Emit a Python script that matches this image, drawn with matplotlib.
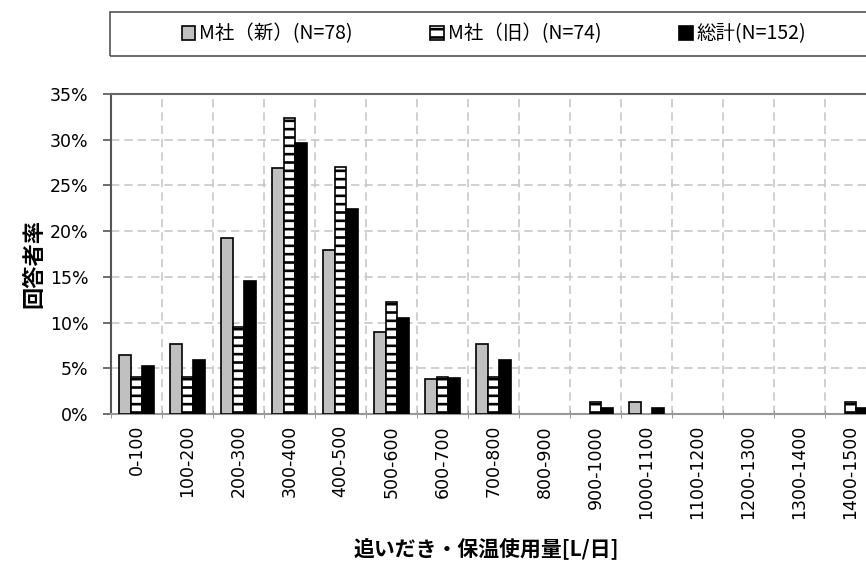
import matplotlib
matplotlib.use("Agg")
import matplotlib.pyplot as plt
import numpy as np
from matplotlib.patches import Rectangle
from matplotlib.ticker import FuncFormatter, MultipleLocator

plt.rcParams['font.family'] = ['DejaVu Sans', 'Noto Sans CJK JP']
plt.rcParams['hatch.linewidth'] = 1.9
plt.rcParams['hatch.color'] = '#3a3a3a'

# data (percent of respondents)
categories = ['0-100', '100-200', '200-300', '300-400', '400-500', '500-600',
              '600-700', '700-800', '800-900', '900-1000', '1000-1100',
              '1100-1200', '1200-1300', '1300-1400', '1400-1500']
m_new = [6.4, 7.7, 19.2, 26.9, 17.9, 9.0, 3.8, 7.7, 0, 0, 1.3, 0, 0, 0, 0]
m_old = [4.1, 4.1, 9.5, 32.4, 27.0, 12.2, 4.1, 4.1, 0, 1.35, 0, 0, 0, 0, 1.35]
total = [5.3, 5.9, 14.5, 29.6, 22.4, 10.5, 3.9, 5.9, 0, 0.66, 0.66, 0, 0, 0, 0.66]
series_labels = ['M社（新）(N=78)', 'M社（旧）(N=74)', '総計(N=152)']

fig = plt.figure(figsize=(8.66, 5.61), dpi=100)
ax = fig.add_axes([111 / 866, 1 - 414 / 561, 765 / 866, 320 / 561])


def edges(vals):
    # zero-height bars get no outline
    return ['black' if v > 0 else 'none' for v in vals]


x = np.arange(len(categories))
w = 0.23
b1 = ax.bar(x - w, m_new, w, color='#c0c0c0', edgecolor=edges(m_new), linewidth=1.2, zorder=3)
b2 = ax.bar(x, m_old, w, color='white', edgecolor=edges(m_old), linewidth=1.2,
            hatch='--', zorder=3)
b3 = ax.bar(x + w, total, w, color='black', edgecolor=edges(total), linewidth=1.2, zorder=3)

ax.set_xlim(-0.5, len(categories) - 0.5)
ax.set_ylim(0, 35)
ax.yaxis.set_major_locator(MultipleLocator(5))
ax.yaxis.set_major_formatter(FuncFormatter(lambda v, p: f'{v:.0f}%'))
ax.set_xticks(x)
ax.set_xticklabels(categories, rotation=90, fontsize=12.5)
ax.set_xticks(np.arange(len(categories) + 1) - 0.5, minor=True)
ax.tick_params(axis='x', which='major', length=0, pad=8)
ax.tick_params(axis='x', which='minor', length=6, color='#888888', direction='inout')
ax.tick_params(axis='y', labelsize=12.5, length=6, width=1.2, color='#555555', pad=10)

ax.grid(axis='y', which='major', linestyle=(0, (5, 3)), color='#c8c8c8', linewidth=1.2, zorder=0)
ax.grid(axis='x', which='minor', linestyle=(0, (5, 3)), color='#c8c8c8', linewidth=1.2, zorder=0)

ax.spines['right'].set_visible(False)
ax.spines['left'].set_color('#555555')
ax.spines['left'].set_linewidth(1.5)
ax.spines['top'].set_color('#666666')
ax.spines['top'].set_linewidth(1.5)
ax.spines['bottom'].set_color('#999999')
ax.spines['bottom'].set_linewidth(1.5)

ax.set_ylabel('回答者率', fontsize=16, fontweight='bold', family=['Noto Sans CJK JP'])
ax.yaxis.set_label_coords(-0.086, 0.47)
ax.set_xlabel('追いだき・保温使用量[L/日]', fontsize=15, fontweight='bold',
              family=['Noto Sans CJK JP'], va='center')
ax.xaxis.set_label_coords(0.49, -0.419)

# legend box
fig.patches.append(Rectangle((110 / 866, 1 - 56 / 561), 0.9, 44 / 561,
                             transform=fig.transFigure, fill=False,
                             edgecolor='#555555', linewidth=1.2))
leg = fig.legend([b1, b2, b3], series_labels, loc='center', ncol=3,
                 bbox_to_anchor=(494 / 866, 1 - 34 / 561), frameon=False,
                 handlelength=0.7, handleheight=0.7,
                 handletextpad=0.2, columnspacing=4.0,
                 prop={'family': ['Noto Sans CJK JP'], 'size': 14})

fig.savefig('out.png', dpi=100)
